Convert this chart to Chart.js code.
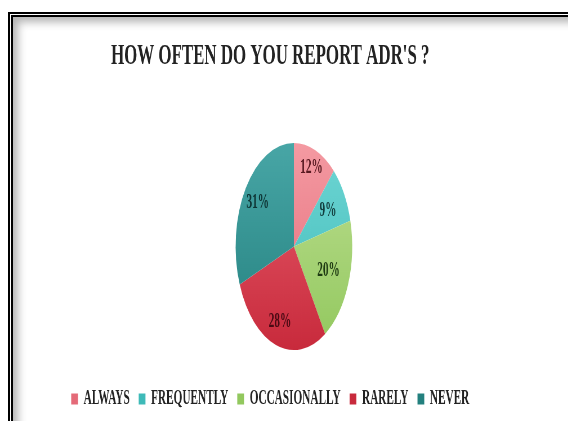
<!DOCTYPE html>
<html>
<head>
<meta charset="utf-8">
<script src="https://cdn.jsdelivr.net/npm/chart.js@4.4.1/dist/chart.umd.min.js"></script>
<style>
  html, body { margin: 0; padding: 0; background: #fff; overflow: hidden; }
  #frame {
    position: absolute; left: 8px; top: 12px; width: 620px; height: 460px;
    border-top: 5px double #000; border-left: 5px double #000;
    box-shadow: inset 5px 5px 9px rgba(0, 0, 0, 0.3);
  }
  #reportChart {
    position: absolute; left: 0; top: 0;
    transform: scaleX(0.563); transform-origin: 0 0;
  }
</style>
</head>
<body>
<div id="frame"></div>
<canvas id="reportChart" width="1009" height="421"></canvas>
<script>
const answers = ["ALWAYS", "FREQUENTLY", "OCCASIONALLY", "RARELY", "NEVER"];
const percents = [12, 9, 20, 28, 31];
const sliceLight = ["#F49AA2", "#6FD6D4", "#BEDF92", "#E8606E", "#48A6A6"];
const sliceDark = ["#E46A78", "#3EBAB8", "#92C85E", "#C82A3C", "#23807E"];
const labelColors = ["#5A1A22", "#123E3E", "#1E3A12", "#4A0A14", "#0E3434"];
const labelRadius = [0.82, 0.68, 0.64, 0.77, 0.75]; // share of the radius

// pie sits right of, and above, its layout box
const pieShift = { x: 42, y: -23 };

// vertical shading for each slice
function sliceFill(c) {
  const area = c.chart.chartArea;
  const i = c.dataIndex;
  if (!area) return sliceDark[i];
  const g = c.chart.ctx.createLinearGradient(0, area.top, 0, area.bottom);
  g.addColorStop(0, sliceLight[i]);
  g.addColorStop(1, sliceDark[i]);
  return g;
}

const pieLabels = {
  id: "pieLabels",
  beforeDatasetsDraw(chart) {
    chart.ctx.save();
    chart.ctx.translate(pieShift.x, pieShift.y);
  },
  afterDatasetsDraw(chart) {
    const ctx = chart.ctx;
    ctx.font = 'bold 20px "Liberation Serif"';
    ctx.textAlign = "center";
    ctx.textBaseline = "middle";
    chart.getDatasetMeta(0).data.forEach((arc, i) => {
      const p = arc.getProps(["x", "y", "startAngle", "endAngle", "outerRadius"], true);
      const mid = (p.startAngle + p.endAngle) / 2;
      const r = p.outerRadius * labelRadius[i];
      ctx.fillStyle = labelColors[i];
      ctx.fillText(percents[i] + "%", p.x + Math.cos(mid) * r, p.y + Math.sin(mid) * r);
    });
    ctx.restore();
  }
};

const ctx = document.getElementById("reportChart").getContext("2d");

new Chart(ctx, {
  type: "pie",
  data: {
    labels: answers,
    datasets: [
      {
        data: percents,
        backgroundColor: sliceFill,
        borderWidth: 0
      }
    ]
  },
  options: {
    responsive: false,
    animation: false,
    layout: { padding: { top: 0, bottom: 2, left: 0, right: 49 } },
    plugins: {
      title: {
        display: true,
        text: "HOW OFTEN DO YOU REPORT ADR'S ?",
        color: "#222",
        font: { family: "Liberation Serif", size: 30, weight: "bold" },
        padding: { top: 38, bottom: 92 }
      },
      legend: {
        position: "bottom",
        labels: {
          boxWidth: 12,
          boxHeight: 11,
          padding: 16,
          color: "#222",
          font: { family: "Liberation Serif", size: 20, weight: "bold" }
        }
      },
      tooltip: { enabled: false }
    }
  },
  plugins: [pieLabels]
});
</script>
</body>
</html>
